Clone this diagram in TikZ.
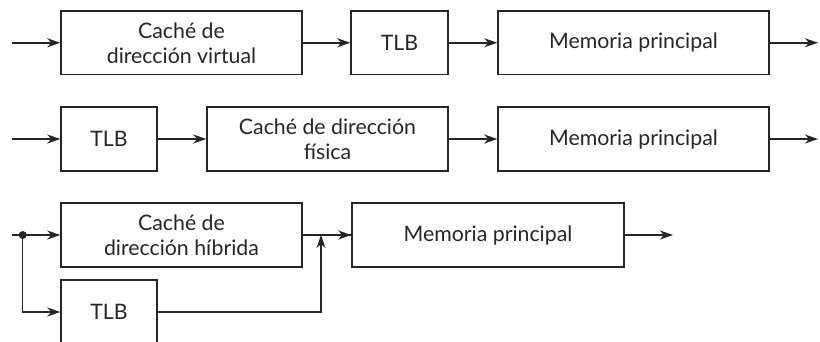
\documentclass[tikz,border=0pt]{standalone}
\usepackage{fontspec}
\setmainfont{Lato}
\usetikzlibrary{arrows.meta}
\begin{document}
\begin{tikzpicture}[x=1pt,y=-1pt,
  blk/.style={draw=black!85, line width=1.5pt, align=center, inner sep=0pt,
    font=\fontsize{21.3}{25}\selectfont, text=black!85},
  conn/.style={draw=black!85, line width=1.5pt, -{Stealth[length=13pt,width=9pt,inset=4pt]}},
  wire/.style={draw=black!85, line width=1.5pt}]
\useasboundingbox (0,0) rectangle (820,341);
\clip (0,0) rectangle (820,341);
% row 1
\node[blk, minimum width=241pt, minimum height=63.5pt] (c1) at (181.5,42.75) {Caché de\\dirección virtual};
\node[blk, minimum width=97pt, minimum height=63.5pt] (t1) at (399.5,42.75) {TLB};
\node[blk, minimum width=271pt, minimum height=63.5pt] (m1) at (633.5,42.75) {Memoria principal};
\coordinate (i1) at (12,42.75);
\coordinate (o1) at (818,42.75);
\draw[conn] (i1) -- (c1);
\draw[conn] (c1) -- (t1);
\draw[conn] (t1) -- (m1);
\draw[conn] (m1) -- (o1);
% row 2
\node[blk, minimum width=96pt, minimum height=64pt] (t2) at (109,139) {TLB};
\node[blk, minimum width=241pt, minimum height=64pt] (c2) at (327.5,139) {Caché de dirección\\física};
\node[blk, minimum width=271pt, minimum height=64pt] (m2) at (633.5,139) {Memoria principal};
\coordinate (i2) at (12,139);
\coordinate (o2) at (818,139);
\draw[conn] (i2) -- (t2);
\draw[conn] (t2) -- (c2);
\draw[conn] (c2) -- (m2);
\draw[conn] (m2) -- (o2);
% row 3
\node[blk, minimum width=241pt, minimum height=64pt] (c3) at (181.5,235) {Caché de\\dirección híbrida};
\node[blk, minimum width=272pt, minimum height=64pt] (m3) at (488,235) {Memoria principal};
\node[blk, minimum width=96pt, minimum height=64pt] (t3) at (109,312) {TLB};
\coordinate (i3) at (12,235);
\coordinate (d) at (22.7,235);
\coordinate (o3) at (673,235);
\coordinate (j) at (321,235);
\draw[wire] (i3) -- (d);
\draw[conn] (d) -- (c3);
\draw[conn] (d) |- (t3.west |- 0,312);
\draw[wire] (c3) -- (m3);
\draw[conn] (j) -- (m3);
\draw[conn] (t3.east |- 0,312) -| (j);
\draw[conn] (m3) -- (o3);
\fill[black!85] (d) circle (4pt);
\end{tikzpicture}
\end{document}
